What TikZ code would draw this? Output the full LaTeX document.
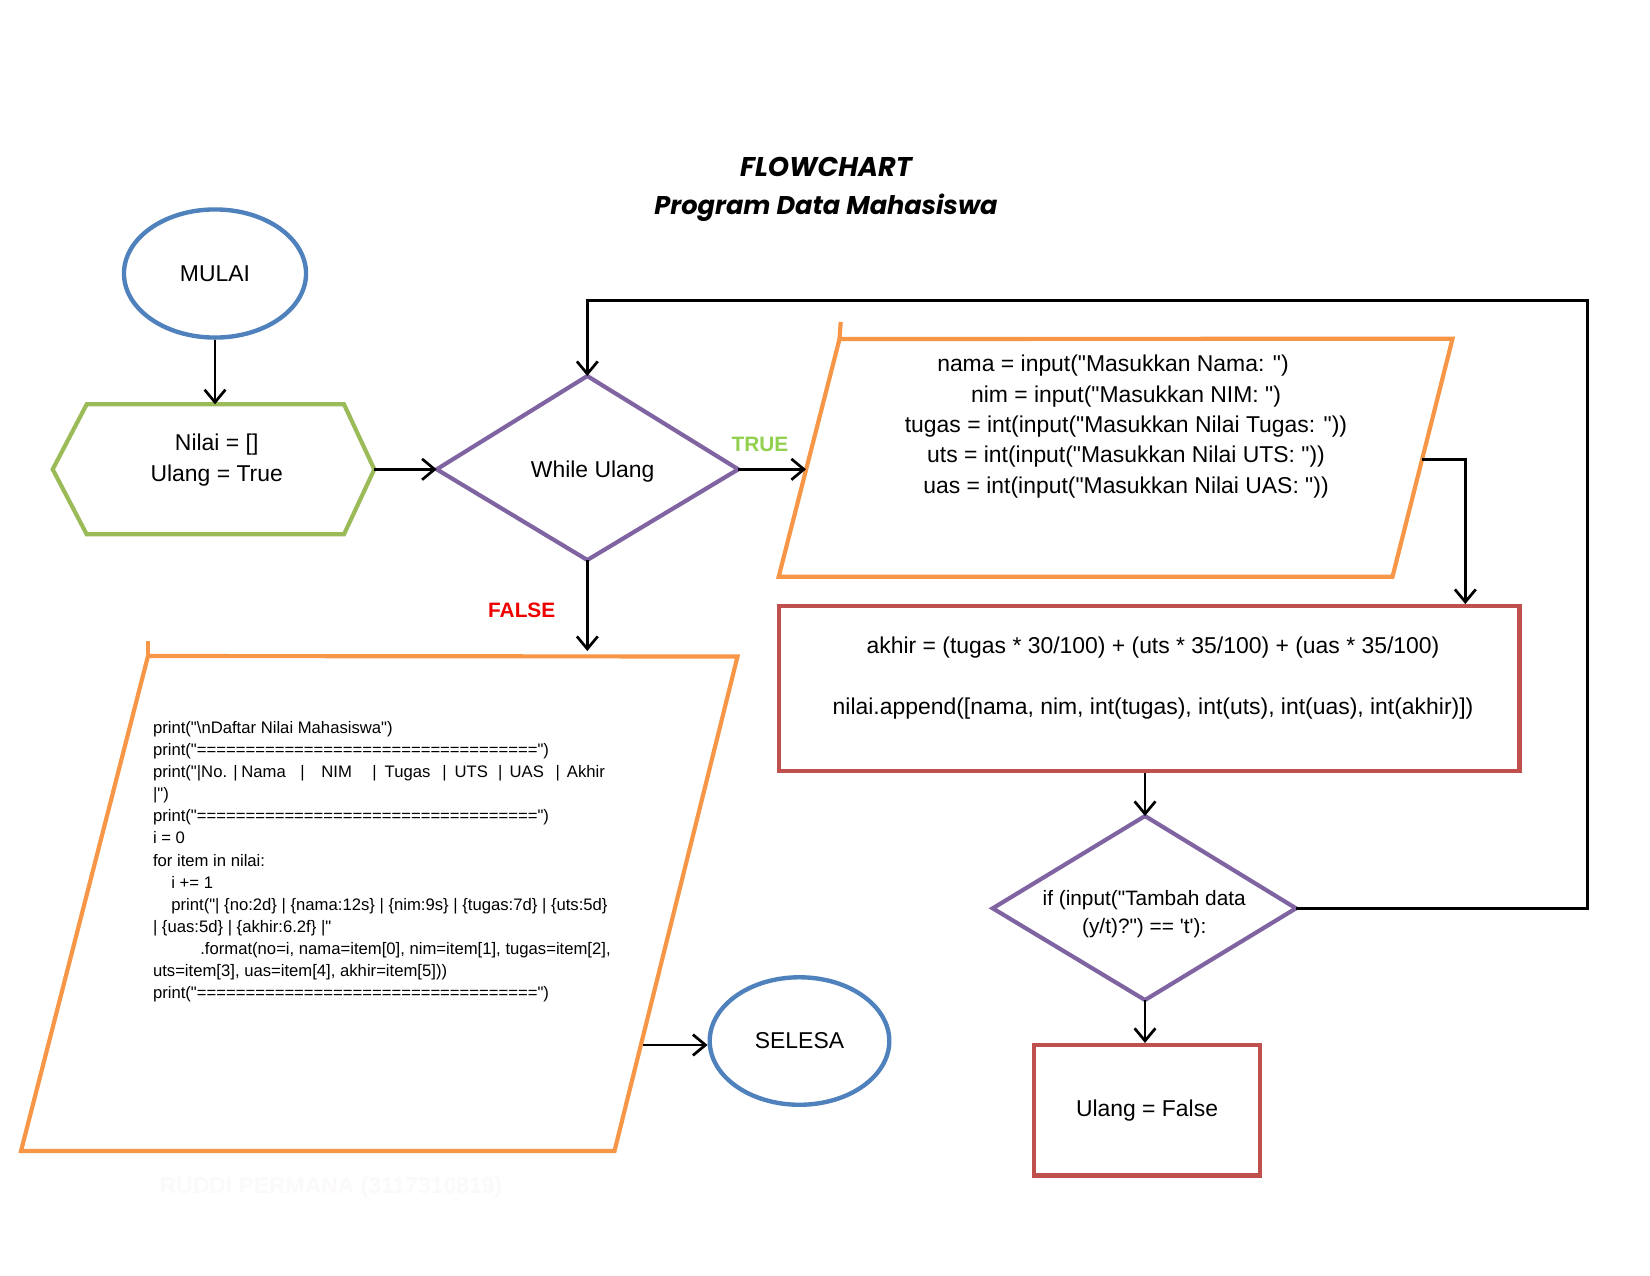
\documentclass[tikz,border=0pt]{standalone}
\usepackage{fontspec}
\setmainfont{Liberation Sans}[Ligatures=TeXOff]
\newfontfamily\titlefont{Poppins}[Ligatures=TeXOff]
\usetikzlibrary{arrows.meta,shapes.geometric}
\definecolor{blueC}{RGB}{79,129,189}
\definecolor{greenC}{RGB}{155,187,89}
\definecolor{purpleC}{RGB}{128,100,162}
\definecolor{orangeC}{RGB}{247,150,70}
\definecolor{redC}{RGB}{192,80,77}
\definecolor{trueC}{RGB}{146,208,80}
\definecolor{falseC}{RGB}{238,0,0}
\definecolor{ghostC}{RGB}{251,249,249}
\tikzset{
  shapeline/.style={line width=2pt, line join=miter},
  term/.style={ellipse, draw=blueC, line width=2.1pt, minimum width=87.4pt, minimum height=61.5pt, inner sep=0pt, font=\fontsize{11}{13}\selectfont},
  hexs/.style={shapeline, draw=greenC},
  dia/.style={shapeline, draw=purpleC},
  para/.style={shapeline, draw=orangeC},
  proc/.style={draw=redC, line width=2pt, inner sep=0pt},
  txt/.style={inner sep=0pt, align=center, font=\fontsize{11}{14.8}\selectfont},
  codetxt/.style={inner sep=0pt, align=left, font=\fontsize{8}{10.6}\selectfont},
  arr/.style={line width=1.3pt, -{Straight Barb[length=6pt,width=10pt]}},
  lbl/.style={inner sep=0pt, font=\fontsize{10}{12}\selectfont\bfseries},
}
\begin{document}
\begin{tikzpicture}[x=0.48pt,y=-0.48pt]
\useasboundingbox (0,0) rectangle (1650,1275);
\fill[white] (0,0) rectangle (1650,1275);

% title
\node[inner sep=0pt, font=\titlefont\fontsize{13}{15}\selectfont\bfseries\itshape] (title1) at (826,167) {FLOWCHART};
\node[inner sep=0pt, font=\titlefont\fontsize{12.3}{15}\selectfont\bfseries\itshape] (title2) at (826,208) {Program Data Mahasiswa};

% MULAI
\node[term] (mulai) at (215,273.5) {\raisebox{-1.5pt}{MULAI}};

% hexagon
\coordinate (hexL) at (52.7,469.3);
\coordinate (hexTL) at (86.7,404.3);
\coordinate (hexTR) at (344,404.3);
\coordinate (hexR) at (374.3,469.3);
\coordinate (hexBR) at (344,534.3);
\coordinate (hexBL) at (86.7,534.3);
\draw[hexs] (hexL) -- (hexTL) -- (hexTR) -- (hexR) -- (hexBR) -- (hexBL) -- cycle;
\node[txt, font=\fontsize{11}{14.9}\selectfont] (init) at (216.7,460) {Nilai = []\\Ulang = True};

% while diamond
\coordinate (wT) at (587.3,376);
\coordinate (wL) at (436.7,469.3);
\coordinate (wR) at (738.3,469.3);
\coordinate (wB) at (587.3,560);
\draw[dia] (wT) -- (wR) -- (wB) -- (wL) -- cycle;
\node[txt] (while) at (592.7,472) {While Ulang};

% input parallelogram
\coordinate (pTL) at (839.5,339);
\coordinate (pTR) at (1452.5,338.7);
\coordinate (pBR) at (1392.5,576.7);
\coordinate (pBL) at (778.7,576.7);
\draw[para] (pBL) -- (pTL) -- (pTR) -- (pBR) -- cycle;
\draw[para] (pTL) -- ++(1.2,-17);
\node[txt, font=\fontsize{11}{14.6}\selectfont] (inputs) at (1126,426.5)
 {nama = input("Masukkan Nama: ")\hspace*{12.5pt}\\
  nim = input("Masukkan NIM: ")\\
  tugas = int(input("Masukkan Nilai Tugas: "))\\
  uts = int(input("Masukkan Nilai UTS: "))\\
  uas = int(input("Masukkan Nilai UAS: "))};
\coordinate (pinL) at (806,469.3);
\coordinate (pR) at (1421.5,459.3);

% process rectangle
\node[proc, minimum width=355.6pt, minimum height=79.3pt] (akhir) at (1149.1,688.7) {};
\node[txt, font=\fontsize{11}{29.3}\selectfont] (akhirtxt) at (1153,678.5)
 {akhir = (tugas * 30/100) + (uts * 35/100) + (uas * 35/100)\\
  nilai.append([nama, nim, int(tugas), int(uts), int(uas), int(akhir)])};
\coordinate (akhirIn) at (1465.3,604);

% if diamond
\coordinate (ifT) at (1145,816);
\coordinate (ifL) at (992.7,908.3);
\coordinate (ifR) at (1296,908.3);
\coordinate (ifB) at (1145,1000);
\draw[dia] (ifT) -- (ifR) -- (ifB) -- (ifL) -- cycle;
\node[txt, font=\fontsize{10}{13.3}\selectfont] (ifq) at (1144.2,914)
 {if (input("Tambah data\\(y/t)?") == 't'):};

% Ulang = False
\node[proc, minimum width=108.1pt, minimum height=62.6pt, font=\fontsize{11}{13}\selectfont] (ulang) at (1147,1110.2) {Ulang = False};

% output parallelogram
\coordinate (cTL) at (148,656);
\coordinate (cTR) at (737.5,656.5);
\coordinate (cBR) at (614.5,1151);
\coordinate (cBL) at (21,1151);
\draw[para] (cBL) -- (cTL) -- (cTR) -- (cBR) -- cycle;
\draw[para] (cTL) -- ++(0,-15);
\coordinate (cIn) at (587.3,651);
\coordinate (cR) at (642.5,1045);
\node[codetxt, anchor=north west] (code) at (152.6,721)
 {print("\textbackslash nDaftar Nilai Mahasiswa")\\
  print("===================================")\\
  \hbox to 217pt{\rlap{print("|No. |}\hskip 42.4pt\rlap{Nama}\hskip 28.3pt\rlap{|}\hskip 10.1pt\rlap{NIM}\hskip 24.5pt\rlap{|}\hskip 5.9pt\rlap{Tugas}\hskip 27.7pt\rlap{|}\hskip 5.9pt\rlap{UTS}\hskip 20.8pt\rlap{|}\hskip 5.6pt\rlap{UAS}\hskip 22.1pt\rlap{|}\hskip 5.4pt\rlap{Akhir}\hfil}\\
  |")\\
  print("===================================")\\
  i = 0\\
  for item in nilai:\\
  \hspace*{8.8pt}i += 1\\
  \hspace*{8.8pt}print("| \{no:2d\} | \{nama:12s\} | \{nim:9s\} | \{tugas:7d\} | \{uts:5d\}\\
  | \{uas:5d\} | \{akhir:6.2f\} |"\\
  \hspace*{22.7pt}.format(no=i, nama=item[0], nim=item[1], tugas=item[2],\\
  uts=item[3], uas=item[4], akhir=item[5]))\\
  print("===================================")};

% SELESA
\node[term, minimum width=86.2pt, minimum height=61.2pt] (selesa) at (799.5,1041) {\raisebox{-2pt}{SELESA}};

% faint watermark
\node[inner sep=0pt, text=ghostC, font=\fontsize{11}{13}\selectfont\bfseries] (wm) at (331,1188) {RUDDI PERMANA (3117310819)};

% labels
\node[lbl, text=trueC] (truel) at (760,444.5) {TRUE};
\node[lbl, text=falseC] (falsel) at (521.7,610.5) {FALSE};

% loop corner
\coordinate (loopNE) at (1587.7,300.5);

% connectors
\draw[arr] (mulai.south) -- (mulai.south |- hexTL);
\draw[arr] (hexR) -- (wL);
\draw[arr] (wR) -- (pinL);
\draw[arr] (wB) -- (cIn);
\draw[arr] (pR) -| (akhirIn);
\draw[arr] (ifT |- akhir.south) -- (ifT);
\draw[arr] (ifB) -- (ifB |- ulang.north);
\draw[arr] (ifR) -| (loopNE) -| (wT);
\draw[arr] (cR) -- (cR -| selesa.west);
\end{tikzpicture}
\end{document}
